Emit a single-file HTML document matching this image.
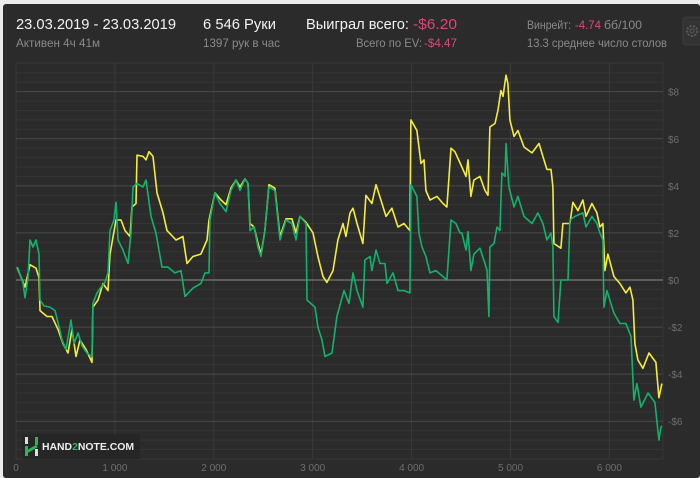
<!DOCTYPE html>
<html><head><meta charset="utf-8"><style>
html,body{margin:0;padding:0;background:#ececec;}
svg{display:block;font-family:"Liberation Sans","DejaVu Sans",sans-serif;}
</style></head><body>
<svg id="chart" width="700" height="478" viewBox="0 0 700 478" xmlns="http://www.w3.org/2000/svg">
<rect x="3" y="4" width="697" height="474" rx="3" fill="#2b2b2b"/>
<g>
<text x="16" y="29" fill="#f2f2f2" font-size="15" textLength="160" lengthAdjust="spacingAndGlyphs">23.03.2019 - 23.03.2019</text>
<text x="16" y="47" fill="#8a8a8a" font-size="12" textLength="84" lengthAdjust="spacingAndGlyphs">Активен 4ч 41м</text>
<text x="203" y="29" fill="#f2f2f2" font-size="15" textLength="73" lengthAdjust="spacingAndGlyphs">6 546 Руки</text>
<text x="203" y="47" fill="#8a8a8a" font-size="12" textLength="77" lengthAdjust="spacingAndGlyphs">1397 рук в час</text>
<text x="306" y="29" fill="#f2f2f2" font-size="15" textLength="103" lengthAdjust="spacingAndGlyphs">Выиграл всего:</text>
<text x="413" y="29" fill="#e0457b" font-size="15" textLength="44" lengthAdjust="spacingAndGlyphs">-$6.20</text>
<text x="356" y="47" fill="#8a8a8a" font-size="12" textLength="66" lengthAdjust="spacingAndGlyphs">Всего по EV:</text>
<text x="424" y="47" fill="#e0457b" font-size="12" textLength="33" lengthAdjust="spacingAndGlyphs">-$4.47</text>
<text x="527" y="29" fill="#8a8a8a" font-size="12" textLength="44" lengthAdjust="spacingAndGlyphs">Винрейт:</text>
<text x="575" y="29" fill="#e0457b" font-size="12" textLength="26" lengthAdjust="spacingAndGlyphs">-4.74</text>
<text x="604" y="29" fill="#8a8a8a" font-size="12" textLength="38" lengthAdjust="spacingAndGlyphs">бб/100</text>
<text x="527" y="47" fill="#8a8a8a" font-size="12" textLength="140" lengthAdjust="spacingAndGlyphs">13.3 среднее число столов</text>
</g>
<g>
<rect x="683" y="17" width="20" height="28" rx="3" fill="#333" stroke="#3c3c3c"/>
<circle cx="692" cy="31" r="5" fill="none" stroke="#5a5a5a" stroke-width="2" stroke-dasharray="2 1.5"/>
<circle cx="692" cy="31" r="2" fill="none" stroke="#5a5a5a" stroke-width="1"/>
</g>
<g id="grid"></g>
<g id="axes"></g>
<g id="series"></g>
<g>
<rect x="22" y="434" width="118" height="25" fill="#262626"/>
<rect x="25" y="437" width="3" height="7" fill="#ddd"/>
<rect x="35" y="449" width="3" height="7" fill="#ddd"/>
<path d="M26.5 452 L37 446" stroke="#2eb35a" stroke-width="3"/>
<rect x="35" y="437" width="3" height="8" fill="#2eb35a"/>
<rect x="25" y="446" width="3" height="10" fill="#2eb35a"/>
<text x="42" y="450" fill="#eee" font-size="10" font-weight="bold" textLength="92" lengthAdjust="spacingAndGlyphs">HAND<tspan fill="#2eb35a">2</tspan>NOTE.COM</text>
</g>
</svg>
<script>
const greenHands=[7,20,71,91,121,142,172,202,233,243,283,344,394,425,465,506,556,586,627,667,718,768,778,819,859,900,930,950,991,1011,1031,1082,1132,1163,1183,1223,1284,1314,1365,1415,1476,1537,1607,1668,1709,1789,1870,1911,1951,1961,2012,2062,2123,2173,2224,2265,2315,2346,2366,2406,2447,2477,2517,2558,2618,2669,2730,2790,2831,2871,2932,2942,3023,3053,3094,3124,3195,3245,3316,3367,3407,3448,3508,3528,3579,3599,3640,3680,3731,3751,3812,3862,3923,3983,3993,4054,4074,4105,4145,4186,4246,4317,4357,4398,4448,4489,4509,4550,4570,4600,4630,4691,4742,4762,4782,4792,4833,4863,4893,4913,4944,4954,4984,5035,5075,5136,5217,5277,5328,5368,5409,5429,5439,5480,5510,5581,5601,5651,5732,5763,5823,5874,5904,5934,5944,5975,6046,6106,6167,6218,6248,6278,6319,6390,6460,6500,6521,6531];
const greenValues=[0.55,0.5,-0.13,-0.75,0.1,1.7,1.4,1.7,1.1,-0.85,-1.1,-1.15,-1.3,-1.8,-2.55,-2.95,-1.7,-2.7,-2.25,-2.8,-3.1,-3.25,-1.0,-0.55,-0.3,-0.1,0.3,2.1,2.55,3.3,1.7,1.27,0.7,2.0,3.95,4.1,3.95,4.25,2.7,2.0,0.55,0.55,0.3,0.4,-0.7,-0.35,-0.15,0.3,0.3,2.55,3.7,3.25,2.9,3.8,4.25,3.8,4.3,4.1,2.1,2.25,1.4,1.0,2.1,3.95,3.8,1.7,2.55,2.4,1.7,2.7,2.4,-0.85,-1.15,-2.0,-2.55,-3.25,-3.1,-1.55,-0.45,-1.0,0.3,-0.45,-1.15,0.85,1.0,0.4,1.27,0.7,0.7,-0.15,0.3,-0.45,-0.45,-0.55,4.05,3.55,2.0,1.4,1.0,0.3,0.4,0.15,0,2.55,2.4,2.0,2.0,1.27,2.05,0.4,1.1,1.35,0.7,0.4,-1.55,1.4,1.55,2.25,2.1,4.55,4.4,5.8,3.95,3.1,3.55,2.7,2.4,2.85,2.4,1.7,2.0,1.4,-1.55,-1.8,0,0,2.55,2.7,2.85,2.25,2.7,2.4,2.0,1.7,-1.15,-0.45,-1.4,-1.85,-1.85,-2.4,-5.1,-4.4,-5.4,-4.8,-5.2,-6.8,-6.25,-6.2];
const yellowHands=[10,91,142,202,233,243,313,364,425,475,526,566,607,647,708,768,778,829,880,930,950,1011,1062,1102,1153,1173,1213,1223,1284,1314,1345,1385,1426,1486,1527,1618,1688,1729,1789,1870,1931,1951,2012,2073,2123,2173,2224,2265,2315,2346,2366,2406,2447,2477,2517,2558,2618,2669,2730,2790,2831,2871,2932,3003,3053,3104,3144,3205,3255,3306,3336,3377,3407,3448,3508,3538,3599,3640,3690,3741,3801,3862,3923,3983,3993,4054,4095,4125,4145,4186,4256,4317,4357,4398,4438,4509,4550,4570,4600,4630,4691,4742,4772,4792,4843,4873,4903,4924,4954,4974,4994,5035,5075,5136,5217,5288,5328,5368,5409,5429,5439,5510,5530,5601,5631,5682,5732,5763,5823,5874,5904,5934,5955,5985,6046,6106,6167,6207,6238,6258,6288,6339,6400,6470,6500,6531];
const yellowValues=[0.55,-0.3,0.65,0.5,0.1,-1.3,-1.55,-1.55,-2.1,-2.7,-3.1,-2.1,-3.25,-2.55,-2.95,-3.5,-1.15,-0.85,-0.15,-0.45,1.1,2.55,2.55,2.1,1.85,3.1,3.25,5.3,5.25,5.1,5.45,5.25,3.7,2.85,2.1,1.7,1.85,0.7,1.0,1.1,1.7,2.55,3.7,3.4,3.2,3.9,4.25,3.95,4.3,4.1,2.4,2.25,1.55,1.1,2.1,4.05,3.9,1.85,2.6,2.6,2.0,2.7,2.45,2.0,1.0,0.15,-0.1,0.4,1.7,2.4,1.85,2.85,3.05,2.4,1.55,3.6,3.25,4.05,3.4,2.7,3.05,2.25,2.4,2.1,6.8,6.35,4.95,5.1,3.8,3.4,3.55,3.25,3.1,5.6,5.45,4.8,4.4,5.1,3.55,4.25,4.4,3.8,3.6,6.5,6.65,7.2,8.05,7.8,8.7,8.35,6.8,6.1,6.35,5.65,5.4,5.8,5.25,4.7,4.7,3.95,1.55,1.35,2.4,2.4,3.3,2.95,3.4,2.7,3.25,2.85,2.25,2.4,0.4,1.1,0.15,-0.15,-0.55,-0.3,-0.85,-2.7,-3.4,-3.75,-3.1,-3.5,-5.0,-4.4];
const xTicks=[0,1000,2000,3000,4000,5000,6000];
const xTickLabels=["0","1 000","2 000","3 000","4 000","5 000","6 000"];
const yTicks=[8,6,4,2,0,-2,-4,-6];
const yTickLabels=["$8","$6","$4","$2","$0","-$2","-$4","-$6"];

const NS="http://www.w3.org/2000/svg";
const X0=16,PXK=0.0989,Y0=280,PYV=23.54,TOP=63,BOT=459,RIGHT=663;
function xs(h){return X0+h*PXK;}
function ys(v){return Y0-v*PYV;}
function mk(tag,attrs,parent){const e=document.createElementNS(NS,tag);for(const k in attrs)e.setAttribute(k,attrs[k]);parent.appendChild(e);return e;}
const grid=document.getElementById('grid'),axes=document.getElementById('axes'),series=document.getElementById('series');
mk('rect',{x:X0,y:TOP,width:RIGHT-X0,height:BOT-TOP,fill:'none',stroke:'#363636'},grid);
for(let v=-7.6;v<=9.21;v+=0.4){
  const r=Math.round(v*10)/10;
  if(Math.abs(r/2-Math.round(r/2))<0.01) continue;
  const l=mk('line',{x1:X0,x2:RIGHT,y1:ys(r),y2:ys(r),stroke:'#353535','stroke-width':1},grid);
  
  
}
xTicks.forEach((t,i)=>{
  const l=mk('line',{x1:xs(t),x2:xs(t),y1:TOP,y2:BOT,stroke:'#3a3a3a'},grid);
  
  
  const tx=mk('text',{x:xs(t),y:471,fill:'#6e6e6e','font-size':10,'text-anchor':'middle'},axes);
  tx.textContent=xTickLabels[i];
  
  
});
yTicks.forEach((t,i)=>{
  const l=mk('line',{x1:X0,x2:RIGHT,y1:ys(t),y2:ys(t),stroke:t===0?'#7a7a7a':'#4a4a4a','stroke-width':t===0?1.3:1},grid);
  
  
  const tx=mk('text',{x:668,y:ys(t)+4,fill:'#6e6e6e','font-size':10},axes);
  tx.textContent=yTickLabels[i];
  
  
});
function path(hs,vs,color,name){
  let d='';hs.forEach((h,i)=>{d+=(i?'L':'M')+xs(h).toFixed(1)+' '+ys(vs[i]).toFixed(1);});
  const p=mk('path',{d:d,fill:'none',stroke:color,'stroke-width':1.6,'stroke-linejoin':'round'},series);
  
  
}
path(yellowHands,yellowValues,'#f4ec3c','ev-winnings-line');
path(greenHands,greenValues,'#12b26b','actual-winnings-line');
</script>
</body></html>
